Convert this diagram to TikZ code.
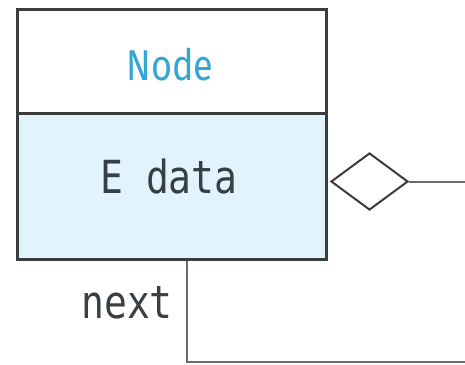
\documentclass[tikz,border=0pt]{standalone}
\usepackage{fontspec}
\usetikzlibrary{shapes.geometric}
\newfontfamily\titlefont{Fira Sans}
\newfontfamily\codefont{DejaVu Sans Mono}
\definecolor{umlframe}{HTML}{3C3C3C}
\definecolor{umlline}{HTML}{6A6A6A}
\definecolor{umltitle}{HTML}{33A6D6}
\definecolor{umlfill}{HTML}{E1F3FC}
\definecolor{umltext}{HTML}{383F44}
\newcommand{\tall}[1]{\scalebox{1}[1.2]{#1}}
\tikzset{
  compartment/.style={draw=umlframe, line width=2.5pt, minimum width=309pt, inner sep=0pt, anchor=north west},
  titletext/.style={text=umltitle, font=\titlefont\fontsize{36}{36}\selectfont, inner sep=0pt, anchor=base},
  codetext/.style={text=umltext, font=\codefont\fontsize{38}{38}\selectfont, inner sep=0pt, anchor=base},
  aggregation/.style={shape=diamond, draw=umlframe, line width=2pt, fill=white, minimum width=77pt, minimum height=57pt, inner sep=0pt},
  link/.style={draw=umlline, line width=2pt}
}
\begin{document}
\begin{tikzpicture}[x=1pt,y=-1pt]
  \useasboundingbox (0,0) rectangle (465,364);
  % class box: name compartment and attribute compartment
  \node[compartment, fill=white, minimum height=104pt] (head) at (16,8) {};
  \node[compartment, fill=umlfill, minimum height=146pt] (body) at (16,112) {};
  \node[titletext] (title) at (170,80) {\tall{Node}};
  \node[codetext] (field) at (169,193) {\tall{E data}};
  % aggregation end on the right
  \node[aggregation, anchor=west] (agg) at (330,181.5) {};
  \coordinate (aggend) at (465,181.5);
  \draw[link] (agg.east) -- (aggend);
  % self reference "next"
  \coordinate (elbow) at (187,362);
  \coordinate (selfend) at (465,362);
  \draw[link] (body.south -| elbow) -- (elbow) -- (selfend);
  \node[codetext, anchor=base east] (role) at (173,318) {\tall{next}};
\end{tikzpicture}
\end{document}
